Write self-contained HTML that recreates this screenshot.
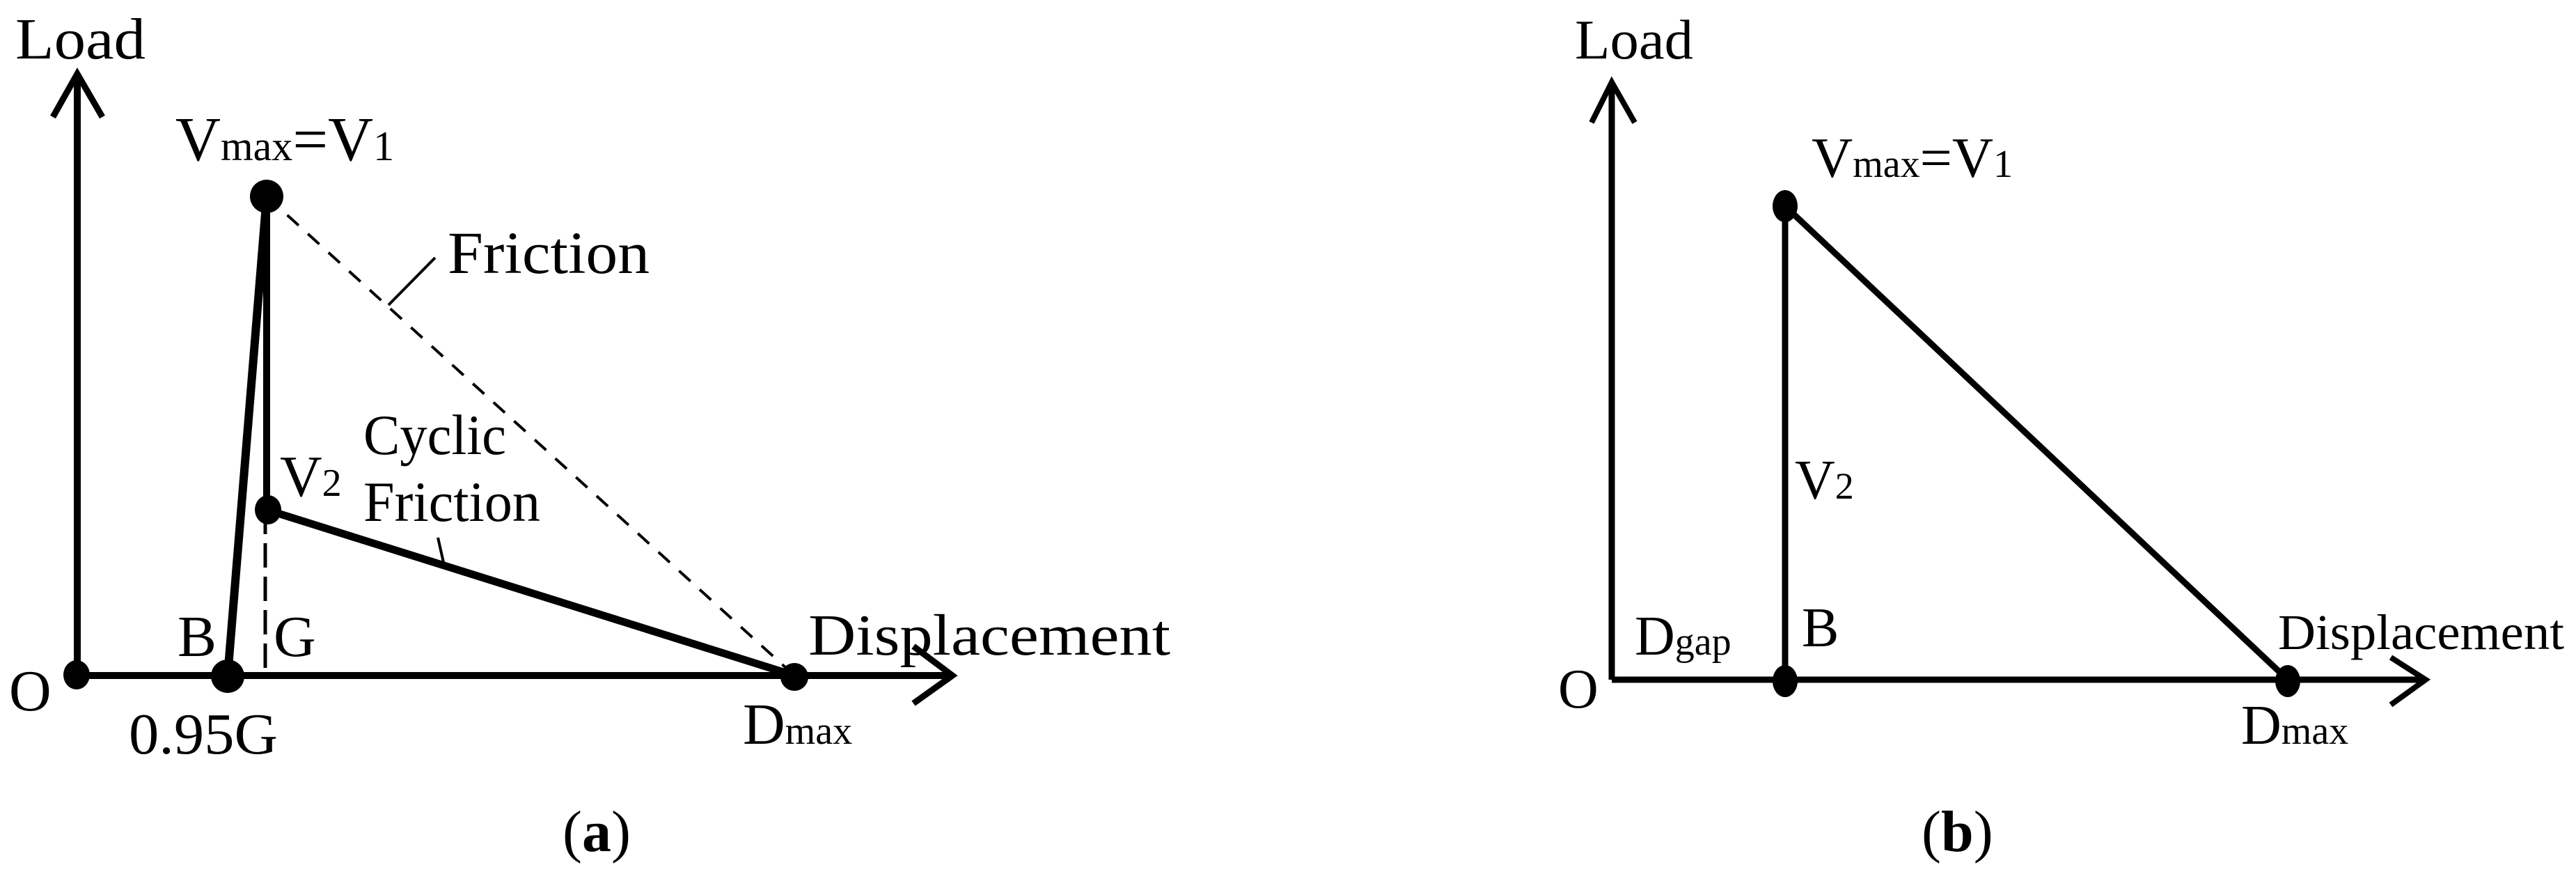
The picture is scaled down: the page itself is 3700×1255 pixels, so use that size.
<!DOCTYPE html>
<html><head><meta charset="utf-8"><style>
html,body{margin:0;padding:0;background:#fff;}
svg{display:block;}
text{font-family:"Liberation Serif",serif;fill:#000;}
</style></head><body>
<svg width="3700" height="1255" viewBox="0 0 3700 1255" xmlns="http://www.w3.org/2000/svg">
<g stroke="#000" fill="none" stroke-linecap="butt">
<!-- Panel a axes -->
<line x1="111" y1="970" x2="111" y2="106" stroke-width="10"/>
<polyline points="76,168 111,106 147,168" stroke-width="9"/>
<line x1="111" y1="970" x2="1368" y2="970" stroke-width="10"/>
<polyline points="1312,928 1368,970 1312,1010" stroke-width="9"/>
<!-- lines -->
<line x1="327" y1="970" x2="383" y2="282" stroke-width="12"/>
<line x1="383" y1="282" x2="383" y2="732" stroke-width="10"/>
<line x1="383" y1="732" x2="1141" y2="970" stroke-width="11"/>
<line x1="381" y1="732" x2="381" y2="962" stroke-width="5" stroke-dasharray="35,13"/>
<line x1="383" y1="282" x2="1141" y2="970" stroke-width="4" stroke-dasharray="22,18"/>
<line x1="558" y1="438" x2="625" y2="370" stroke-width="4"/>
<line x1="629" y1="772" x2="638" y2="812" stroke-width="4"/>
<!-- Panel b -->
<line x1="2315" y1="976" x2="2315" y2="118" stroke-width="9"/>
<polyline points="2286,176 2315,118 2348,176" stroke-width="8"/>
<line x1="2315" y1="976" x2="3484" y2="976" stroke-width="9"/>
<polyline points="3434,944 3484,976 3434,1012" stroke-width="8"/>
<line x1="2564" y1="976" x2="2564" y2="296" stroke-width="9"/>
<line x1="2564" y1="296" x2="3286" y2="976" stroke-width="9"/>
</g>
<g fill="#000">
<ellipse cx="110" cy="969" rx="19" ry="21"/>
<ellipse cx="327" cy="971" rx="24" ry="24"/>
<ellipse cx="383" cy="282" rx="24" ry="24"/>
<ellipse cx="385" cy="732" rx="19" ry="21"/>
<ellipse cx="1141" cy="972" rx="20" ry="20"/>
<ellipse cx="2564" cy="296" rx="18" ry="23"/>
<ellipse cx="2564" cy="978" rx="18" ry="23"/>
<ellipse cx="3286" cy="978" rx="18" ry="23"/>
</g>
<!-- Panel a text -->
<text x="22" y="84" font-size="84" textLength="187" lengthAdjust="spacingAndGlyphs">Load</text>
<text x="252" y="230" font-size="90">V<tspan font-size="60">max</tspan>=V<tspan font-size="60">1</tspan></text>
<text x="643" y="392" font-size="86" textLength="290" lengthAdjust="spacingAndGlyphs">Friction</text>
<text x="522" y="652" font-size="82" textLength="205" lengthAdjust="spacingAndGlyphs">Cyclic</text>
<text x="522" y="748" font-size="82" textLength="254" lengthAdjust="spacingAndGlyphs">Friction</text>
<text x="402" y="712" font-size="84">V<tspan font-size="56">2</tspan></text>
<text x="255" y="942" font-size="84">B</text>
<text x="393" y="942" font-size="84">G</text>
<text x="13" y="1020" font-size="84">O</text>
<text x="185" y="1082" font-size="84" textLength="214" lengthAdjust="spacingAndGlyphs">0.95G</text>
<text x="1067" y="1068" font-size="84">D<tspan font-size="56">max</tspan></text>
<text x="1161" y="940" font-size="84" textLength="520" lengthAdjust="spacingAndGlyphs">Displacement</text>
<text x="808" y="1222" font-size="84">(<tspan font-weight="bold">a</tspan>)</text>
<!-- Panel b text -->
<text x="2262" y="84" font-size="80" textLength="170" lengthAdjust="spacingAndGlyphs">Load</text>
<text x="2602" y="254" font-size="82">V<tspan font-size="56">max</tspan>=V<tspan font-size="56">1</tspan></text>
<text x="2578" y="716" font-size="80">V<tspan font-size="54">2</tspan></text>
<text x="2588" y="928" font-size="80">B</text>
<text x="2348" y="940" font-size="80">D<tspan font-size="56">gap</tspan></text>
<text x="2238" y="1016" font-size="80">O</text>
<text x="3272" y="932" font-size="72" textLength="411" lengthAdjust="spacingAndGlyphs">Displacement</text>
<text x="3219" y="1068" font-size="80">D<tspan font-size="56">max</tspan></text>
<text x="2760" y="1222" font-size="84">(<tspan font-weight="bold">b</tspan>)</text>
</svg>
</body></html>
